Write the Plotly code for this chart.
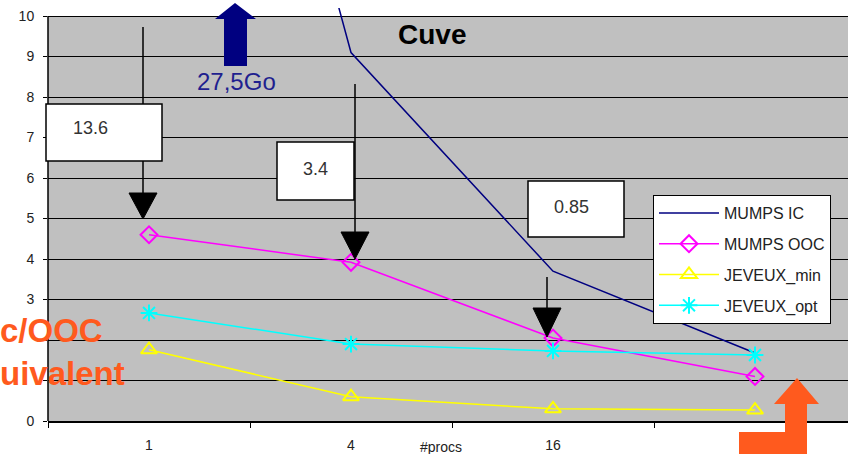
import plotly.graph_objects as go

# ---- data ----
procs = ["1", "4", "16", "64"]
mumps_ic = [27.5, 9.1, 3.7, 1.68]
mumps_ooc = [4.6, 3.92, 2.05, 1.1]
jeveux_min = [1.76, 0.6, 0.3, 0.27]
jeveux_opt = [2.67, 1.9, 1.73, 1.63]
y_ticks = list(range(0, 11))
y_tick_text = ["0", "", "", "3", "4", "5", "6", "7", "8", "9", "10"]  # 1 and 2 hidden under orange text
ratio_labels = ["13.6", "3.4", "0.85"]

FONT = "Arial, Liberation Sans, sans-serif"
W, H = 848, 454
L, R, T, B = 48, 0, 8, 33
PW = W - L - R
PH = H - T - B


def fx(px):
    return (px - L) / PW


def fy(py):
    return (H - B - py) / PH


fig = go.Figure()
fig.add_trace(go.Scatter(x=procs, y=mumps_ic, name="MUMPS IC", mode="lines",
                         line=dict(color="#000080", width=1.5), legendgroup="a"))
fig.add_trace(go.Scatter(x=procs, y=mumps_ooc, name="MUMPS OOC", mode="lines+markers",
                         line=dict(color="#FF00FF", width=1.5), legendgroup="b",
                         marker=dict(symbol="diamond-open", size=13, color="#FF00FF",
                                     line=dict(width=2, color="#FF00FF"))))
fig.add_trace(go.Scatter(x=procs, y=jeveux_min, name="JEVEUX_min", mode="lines+markers",
                         line=dict(color="#FFFF00", width=1.5), legendgroup="c",
                         marker=dict(symbol="triangle-up-open", size=14, color="#FFFF00",
                                     line=dict(width=2, color="#FFFF00"))))
fig.add_trace(go.Scatter(x=procs, y=jeveux_opt, name="JEVEUX_opt", mode="lines+markers",
                         line=dict(color="#00FFFF", width=1.5), legendgroup="d",
                         marker=dict(symbol="asterisk-open", size=14, color="#00FFFF",
                                     line=dict(width=2, color="#00FFFF"))))

shapes = []
# white strip above the 10 gridline (plot extends a bit for the IC line)
shapes.append(dict(type="rect", xref="x domain", yref="y", x0=0, x1=1, y0=10, y1=10.2,
                   fillcolor="white", line=dict(width=0), layer="below"))
# y axis line
shapes.append(dict(type="line", xref="x domain", yref="y", x0=0, x1=0, y0=0, y1=10,
                   line=dict(color="black", width=1.5), layer="above"))

# black arrows (line + triangle head)
arrows = [(143, 27, 193, 219, 14), (355, 84, 232, 259, 14), (547, 277, 308, 337, 14)]
for ax, y_start, y_base, y_tip, hw in arrows:
    shapes.append(dict(type="line", xref="paper", yref="paper",
                       x0=fx(ax), x1=fx(ax), y0=fy(y_start), y1=fy(y_base),
                       line=dict(color="black", width=1.5), layer="above"))
    shapes.append(dict(type="path", xref="paper", yref="paper",
                       path=f"M {fx(ax-hw)},{fy(y_base)} L {fx(ax+hw)},{fy(y_base)} L {fx(ax)},{fy(y_tip)} Z",
                       fillcolor="black", line=dict(color="black", width=1), layer="above"))

# white boxes
boxes = [(46, 104, 162, 161), (277, 142, 354, 200), (528, 181, 624, 237)]
for x0, y0, x1, y1 in boxes:
    shapes.append(dict(type="rect", xref="paper", yref="paper",
                       x0=fx(x0), x1=fx(x1), y0=fy(y0), y1=fy(y1),
                       fillcolor="white", line=dict(color="black", width=1.5), layer="above"))

# navy up arrow
nav = [(224, 66), (224, 19), (215, 19), (235, 3), (256, 19), (247, 19), (247, 66)]
shapes.append(dict(type="path", xref="paper", yref="paper",
                   path="M " + " L ".join(f"{fx(a)},{fy(b)}" for a, b in nav) + " Z",
                   fillcolor="#000080", line=dict(width=0), layer="above"))

# orange bent arrow
org = [(739, 456), (739, 432), (785, 432), (785, 404), (774, 404), (797, 378),
       (819, 404), (807, 404), (807, 456)]
shapes.append(dict(type="path", xref="paper", yref="paper",
                   path="M " + " L ".join(f"{fx(a)},{fy(b)}" for a, b in org) + " Z",
                   fillcolor="#FF5A1E", line=dict(width=0), layer="above"))

annotations = []
for (cx, cy), txt in zip([(90, 128), (315, 169), (571, 207)], ratio_labels):
    annotations.append(dict(xref="paper", yref="paper", x=fx(cx), y=fy(cy), text=txt,
                            showarrow=False, xanchor="center", yanchor="middle",
                            font=dict(family=FONT, size=18, color="#333333")))
annotations.append(dict(xref="paper", yref="paper", x=fx(432), y=fy(34), text="<b>Cuve</b>",
                        showarrow=False, xanchor="center", yanchor="middle",
                        font=dict(family=FONT, size=28, color="black")))
annotations.append(dict(xref="paper", yref="paper", x=fx(236), y=fy(82), text="27,5Go",
                        showarrow=False, xanchor="center", yanchor="middle",
                        font=dict(family=FONT, size=24, color="#1F1F8F")))
annotations.append(dict(xref="paper", yref="paper", x=fx(441), y=fy(447), text="#procs",
                        showarrow=False, xanchor="center", yanchor="middle",
                        font=dict(family=FONT, size=14, color="#222222")))
annotations.append(dict(xref="paper", yref="paper", x=fx(-2), y=fy(352),
                        text="<b>c/OOC<br>uivalent</b>",
                        showarrow=False, xanchor="left", yanchor="middle", align="left",
                        font=dict(family=FONT, size=33, color="#FF5A1E")))

fig.update_layout(
    width=W, height=H,
    margin=dict(l=L, r=R, t=T, b=B, pad=0),
    paper_bgcolor="white",
    plot_bgcolor="#C0C0C0",
    font=dict(family=FONT, size=14, color="#222222"),
    showlegend=True,
    legend=dict(x=fx(653), y=fy(195), xanchor="left", yanchor="top",
                bgcolor="white", bordercolor="black", borderwidth=1,
                font=dict(family=FONT, size=16, color="#222222"),
                tracegroupgap=7, itemwidth=60),
    xaxis=dict(type="category", categoryorder="array", categoryarray=procs,
               range=[-0.5, -0.5 + PW / 202.0],
               tickson="boundaries", ticks="outside", ticklen=5, tickcolor="black",
               showgrid=False, showline=True, linecolor="black", linewidth=1.5,
               zeroline=False, ticklabelstandoff=10,
               tickfont=dict(family=FONT, size=14, color="#222222")),
    yaxis=dict(range=[0, 10.2], tickvals=y_ticks, ticktext=y_tick_text,
               ticks="outside", ticklen=4,
               tickcolor="black", showgrid=True, gridcolor="black", gridwidth=1,
               showline=False, zeroline=False, ticklabelstandoff=6,
               tickfont=dict(family=FONT, size=14, color="#222222")),
    shapes=shapes,
    annotations=annotations,
)

fig.write_html("out.html")
